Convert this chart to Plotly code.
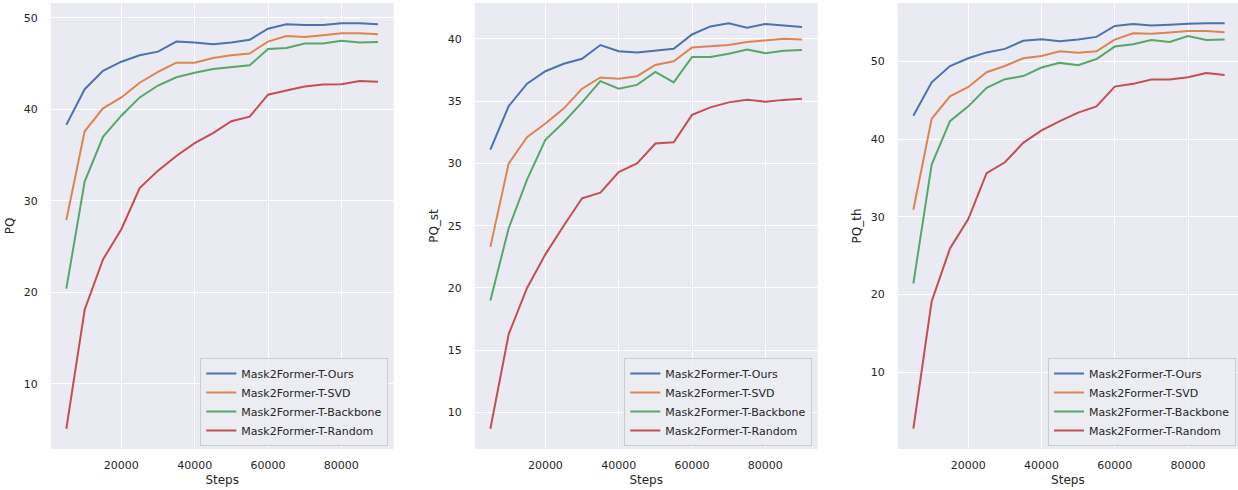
import plotly.graph_objects as go

steps = [5000, 10000, 15000, 20000, 25000, 30000, 35000, 40000, 45000,
         50000, 55000, 60000, 65000, 70000, 75000, 80000, 85000, 90000]

series_names = ["Mask2Former-T-Ours", "Mask2Former-T-SVD",
                "Mask2Former-T-Backbone", "Mask2Former-T-Random"]

pq_ours = [38.3, 42.2, 44.2, 45.2, 45.9, 46.3, 47.4, 47.3, 47.1, 47.3, 47.6, 48.8,
           49.3, 49.2, 49.2, 49.4, 49.4, 49.3]
pq_svd = [27.9, 37.6, 40.1, 41.3, 42.9, 44.1, 45.1, 45.1, 45.6, 45.9, 46.1, 47.4,
          48.0, 47.9, 48.1, 48.3, 48.3, 48.2]
pq_backbone = [20.4, 32.1, 37.0, 39.3, 41.3, 42.6, 43.5, 44.0, 44.4, 44.6, 44.8, 46.6,
               46.7, 47.2, 47.2, 47.5, 47.3, 47.35]
pq_random = [5.1, 18.1, 23.6, 26.9, 31.4, 33.3, 34.9, 36.3, 37.4, 38.7, 39.2, 41.6,
             42.05, 42.5, 42.7, 42.75, 43.1, 43.0]

pq_st_ours = [31.1, 34.6, 36.4, 37.4, 38.0, 38.4, 39.5, 39.0, 38.9, 39.05, 39.2, 40.35,
              41.0, 41.25, 40.9, 41.2, 41.1, 40.95]
pq_st_svd = [23.3, 30.0, 32.1, 33.2, 34.4, 36.0, 36.9, 36.8, 37.0, 37.9, 38.2, 39.3,
             39.4, 39.5, 39.75, 39.9, 40.0, 39.95]
pq_st_backbone = [19.0, 24.8, 28.7, 31.9, 33.3, 34.9, 36.6, 36.0, 36.3, 37.35, 36.5, 38.55,
                  38.55, 38.8, 39.15, 38.85, 39.05, 39.1]
pq_st_random = [8.7, 16.3, 20.0, 22.7, 25.0, 27.2, 27.65, 29.3, 30.0, 31.6, 31.7, 33.9,
                34.5, 34.9, 35.1, 34.95, 35.1, 35.2]

pq_th_ours = [43.0, 47.3, 49.4, 50.4, 51.15, 51.6, 52.65, 52.85, 52.6, 52.8, 53.15, 54.55,
              54.8, 54.6, 54.7, 54.85, 54.9, 54.9]
pq_th_svd = [30.9, 42.6, 45.5, 46.7, 48.6, 49.4, 50.4, 50.7, 51.3, 51.1, 51.3, 52.8,
             53.6, 53.55, 53.7, 53.9, 53.9, 53.75]
pq_th_backbone = [21.4, 36.7, 42.3, 44.2, 46.6, 47.7, 48.1, 49.2, 49.8, 49.5, 50.3, 51.9,
                  52.2, 52.75, 52.5, 53.25, 52.75, 52.8]
pq_th_random = [2.7, 19.1, 25.9, 29.7, 35.6, 37.0, 39.5, 41.1, 42.3, 43.4, 44.2, 46.75,
                47.1, 47.65, 47.65, 47.95, 48.5, 48.25]

panels = [
    ("PQ", [pq_ours, pq_svd, pq_backbone, pq_random], 10),
    ("PQ_st", [pq_st_ours, pq_st_svd, pq_st_backbone, pq_st_random], 5),
    ("PQ_th", [pq_th_ours, pq_th_svd, pq_th_backbone, pq_th_random], 10),
]
x_ticks = [20000, 40000, 60000, 80000]

colors = ["#4C72B0", "#DD8452", "#55A868", "#C44E52"]
W, H = 1238, 490
text_color = "#262626"
font_family = "DejaVu Sans"

# plot-area pixel boxes (left, right) and x ranges
x_boxes = [(50.75, 393.6), (474.8, 817.6), (897.8, 1238.0)]
x_ranges = [[750, 94250], [750, 94250], [750, 93650]]
y_top, y_bot = 3.0, 449.0
legend_right = [388.3, 812.3, 1236.0]

fig = go.Figure()
layout = dict(
    template="none",
    width=W, height=H,
    margin=dict(l=0, r=0, t=0, b=0, pad=0),
    paper_bgcolor="white",
    plot_bgcolor="#EAEAF2",
    font=dict(family=font_family, size=11, color=text_color),
    showlegend=True,
)

for i, (ytitle, ys, dtick) in enumerate(panels):
    sfx = "" if i == 0 else str(i + 1)
    leg = "legend" if i == 0 else f"legend{i + 1}"
    for name, vals, col in zip(series_names, ys, colors):
        fig.add_trace(go.Scatter(
            x=steps, y=vals, mode="lines", name=name,
            line=dict(color=col, width=2),
            xaxis="x" + sfx, yaxis="y" + sfx, legend=leg,
        ))
    allv = [v for s in ys for v in s]
    lo, hi = min(allv), max(allv)
    pad = (hi - lo) * 0.05
    l, r = x_boxes[i]
    layout["xaxis" + sfx] = dict(
        domain=[l / W, r / W], range=x_ranges[i], anchor="y" + sfx,
        tickvals=x_ticks, ticktext=[str(t) for t in x_ticks],
        showgrid=True, gridcolor="white", gridwidth=1.3,
        zeroline=False, showline=False, ticks="", automargin=False,
        ticklabelstandoff=8,
        tickfont=dict(size=11, color=text_color),
        title=dict(text="Steps", font=dict(size=12, color=text_color), standoff=4),
    )
    layout["yaxis" + sfx] = dict(
        domain=[1 - y_bot / H, 1 - y_top / H], range=[lo - pad, hi + pad],
        anchor="x" + sfx, dtick=dtick, tick0=0,
        showgrid=True, gridcolor="white", gridwidth=1.3,
        zeroline=False, showline=False, ticks="", automargin=False,
        ticklabelstandoff=12,
        tickfont=dict(size=11, color=text_color),
        title=dict(text=ytitle, font=dict(size=12, color=text_color), standoff=6),
    )
    layout[leg] = dict(
        x=legend_right[i] / W, xanchor="right",
        y=1 - 446.0 / H, yanchor="bottom",
        bgcolor="rgba(236,236,243,0.85)", bordercolor="#CCCCCC", borderwidth=1,
        font=dict(size=11, color=text_color, family=font_family),
        tracegroupgap=0, itemwidth=30,
    )

fig.update_layout(**layout)
fig.write_html("out.html",
               config={"displayModeBar": False},
               post_script="document.body.style.margin='0';document.body.style.overflow='hidden';")
